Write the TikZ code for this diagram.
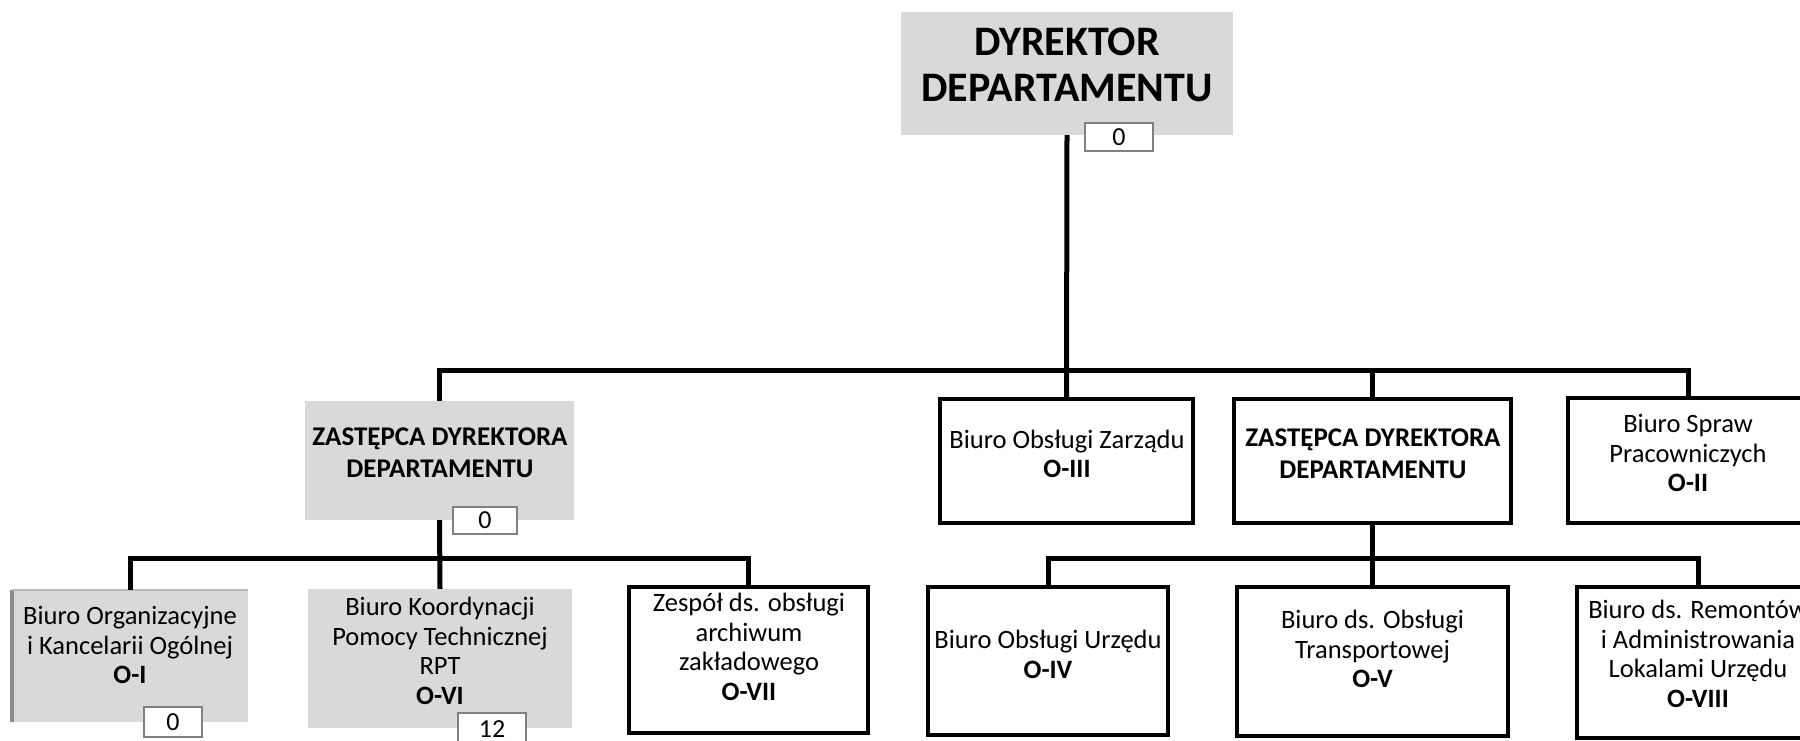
\documentclass[tikz,border=0pt]{standalone}
\usepackage{fontspec}
\setmainfont{Carlito}
\definecolor{boxgray}{HTML}{D9D9D9}
\definecolor{numgray}{HTML}{808080}
\definecolor{edgegray}{HTML}{8C8C8C}
\tikzset{
  wbox/.style={draw=black, line width=3.8pt, fill=white, inner sep=0pt},
  gbox/.style={draw=none, fill=boxgray, inner sep=0pt},
  numbox/.style={draw=numgray, line width=2.5pt, fill=white, inner sep=0pt, font=\fontsize{26}{28}\selectfont},
  txt/.style={align=center, inner sep=0pt, font=\fontsize{26.5}{29.5}\selectfont},
  btxt/.style={align=center, inner sep=0pt, font=\bfseries\fontsize{27}{32}\selectfont},
  ttxt/.style={align=center, inner sep=0pt, font=\bfseries\fontsize{42}{46}\selectfont},
  conn/.style={line width=5pt, line join=miter}
}
\begin{document}
\begin{tikzpicture}[x=1pt,y=-1pt]
\useasboundingbox (0,0) rectangle (1800,741);
% boxes
\node[gbox, minimum width=332, minimum height=123] (top) at (1067,73.5) {};
\node[gbox, minimum width=269, minimum height=119] (zl) at (439.5,460.5) {};
\node[wbox, minimum width=253, minimum height=124] (obz) at (1066.5,461) {};
\node[wbox, minimum width=277, minimum height=124] (zr) at (1372.5,461) {};
\node[wbox, minimum width=240, minimum height=125] (sp) at (1688,460.5) {};
\node[gbox, minimum width=236, minimum height=132] (oi) at (130,656) {};
\draw[edgegray, line width=4pt] (oi.north west) -- (oi.south west);
\draw[edgegray!60, line width=2pt] (oi.north west) -- (oi.north east);
\node[gbox, minimum width=264, minimum height=139] (ovi) at (440,658.5) {};
\node[wbox, minimum width=239, minimum height=146] (ovii) at (748.5,660) {};
\node[wbox, minimum width=240, minimum height=148] (oiv) at (1048,661) {};
\node[wbox, minimum width=271, minimum height=149] (ov) at (1372.5,661.5) {};
\node[wbox, minimum width=242, minimum height=151] (oviii) at (1698,662.5) {};
% number boxes
\node[numbox, minimum width=68, minimum height=28] (topnum) at (1119,137) {0};
\node[numbox, minimum width=64, minimum height=27] (zlnum) at (485,520.5) {0};
\node[numbox, minimum width=58, minimum height=30] (oinum) at (173,722) {0};
\node[numbox, minimum width=68, minimum height=32] (ovinum) at (492,729) {12};
% texts
\node[ttxt] (ttop) at (1067,65) {DYREKTOR\\DEPARTAMENTU};
\node[btxt] (tzl) at (440,453) {ZASTĘPCA DYREKTORA\\DEPARTAMENTU};
\node[txt] (tobz) at (1067,454) {Biuro Obsługi Zarządu\\\textbf{O-III}};
\node[btxt] (tzr) at (1373,454) {ZASTĘPCA DYREKTORA\\DEPARTAMENTU};
\node[txt] (tsp) at (1688,453) {Biuro Spraw\\Pracowniczych\\\textbf{O-II}};
\node[txt] (toi) at (130,645) {Biuro Organizacyjne\\i Kancelarii Ogólnej\\\textbf{O-I}};
\node[txt] (tovi) at (440,651) {Biuro Koordynacji\\Pomocy Technicznej\\RPT\\\textbf{O-VI}};
\node[txt] (tovii) at (749,647) {Zespół ds. obsługi\\archiwum\\zakładowego\\\textbf{O-VII}};
\node[txt] (toiv) at (1048,654.5) {Biuro Obsługi Urzędu\\\textbf{O-IV}};
\node[txt] (tov) at (1372.5,649) {Biuro ds. Obsługi\\Transportowej\\\textbf{O-V}};
\node[txt] (toviii) at (1698,654) {Biuro ds. Remontów\\i Administrowania\\Lokalami Urzędu\\\textbf{O-VIII}};
% bus coordinates
\coordinate (busT) at (1067,370);
\coordinate (busL) at (440,558);
\coordinate (busR) at (1373,558);
% connectors
\draw[conn] (top.south) -- (obz.north);
\draw[conn] (zl.north) -- (zl.north |- busT) -- (sp.north |- busT) -- (sp.north);
\draw[conn] (zr.north |- busT) -- (zr.north);
\draw[conn] (zl.south) -- (ovi.north);
\draw[conn] (oi.north) -- (oi.north |- busL) -- (ovii.north |- busL) -- (ovii.north);
\draw[conn] (zr.south) -- (ov.north);
\draw[conn] (oiv.north) -- (oiv.north |- busR) -- (oviii.north |- busR) -- (oviii.north);
\end{tikzpicture}
\end{document}
